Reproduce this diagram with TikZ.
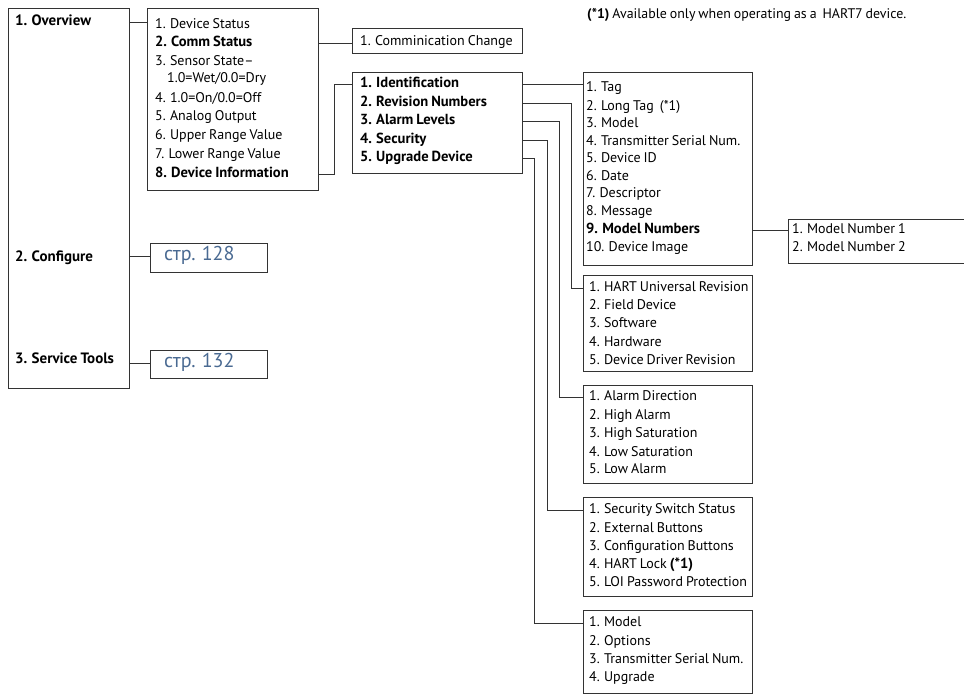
\documentclass[tikz,border=0pt]{standalone}
\usepackage{fontspec}
\setmainfont[WordSpace=0.8]{PT Sans}
\usepackage{tikz}
\usetikzlibrary{positioning}
\definecolor{pagelink}{RGB}{74,106,146}
\tikzset{
  menu/.style={draw=black!80,line width=0.9pt,anchor=north west,inner sep=0pt},
  item/.style={anchor=west,inner sep=0pt,text height=9pt,text depth=3pt,
    font=\fontsize{14}{16}\selectfont},
  bitem/.style={item,font=\fontsize{14.6}{16}\selectfont\bfseries},
  head/.style={item,font=\fontsize{15}{17}\selectfont\bfseries},
  pageref/.style={item,text height=12pt,text depth=4pt,
    font=\fontsize{20}{22}\selectfont,text=pagelink},
  note/.style={anchor=west,inner sep=0pt,font=\fontsize{13.9}{15}\selectfont},
  wire/.style={draw=black!80,line width=0.9pt},
}
\newcommand{\menubox}[5]{\node[menu,minimum width=#4pt,minimum height=#5pt] (#1) at (#2,#3) {};}
\newcommand{\menubf}[1]{{\fontsize{14.6}{16}\selectfont\bfseries #1}}

\begin{document}
\begin{tikzpicture}[x=1pt,y=-1pt]
  \useasboundingbox (0,0) rectangle (964,694);
  \node[note] (fn) at (587,15) {\textbf{(*1)} Available only when operating as a\ \ HART7 device.};

  % menu boxes
  \menubox{ov}{8}{8}{121}{380}
  \menubox{main}{147}{8}{171}{182}
  \menubox{comm}{352}{28}{170}{25}
  \menubox{ident}{352}{72}{170}{101}
  \menubox{tag}{583}{72}{169}{193}
  \menubox{mnum}{788}{219}{180}{44}
  \menubox{rev}{583}{275}{169}{96}
  \menubox{alarm}{583}{385}{169}{98}
  \menubox{sec}{583}{497}{169}{99}
  \menubox{upg}{583}{610}{169}{83}
  \menubox{p128}{150}{243}{117}{29}
  \menubox{p132}{150}{350}{117}{28}

  % entries
  \foreach \y/\t [count=\i] in {22/1. Overview,258/2. Configure,360/3. Service Tools}
    \node[head] (ov-\i) at (15,\y) {\t};
  \foreach \x/\y/\t [count=\i] in {155/25/1. Device Status,155/43/\menubf{2. Comm Status},
      155/62/3. Sensor State–,167/79/{1.0=Wet/0.0=Dry},155/99/{4. 1.0=On/0.0=Off},
      155/117/5. Analog Output,155/136/6. Upper Range Value,155/155/7. Lower Range Value,
      155/174/\menubf{8. Device Information}}
    \node[item] (main-\i) at (\x,\y) {\t};
  \node[item] (comm-1) at (360,42) {1. Comminication Change};
  \foreach \y/\t [count=\i] in {84/1. Identification,103/2. Revision Numbers,
      121/3. Alarm Levels,140/4. Security,158/5. Upgrade Device}
    \node[bitem] (ident-\i) at (360,\y) {\t};
  \foreach \y/\t [count=\i] in {88/1. Tag,107/2. Long Tag\ \ (*1),124/3. Model,
      142/4. Transmitter Serial Num.,159/5. Device ID,177/6. Date,194/7. Descriptor,
      212/8. Message,230/\menubf{9. Model Numbers},248/10. Device Image}
    \node[item] (tag-\i) at (586,\y) {\t};
  \foreach \y/\t [count=\i] in {230/1. Model Number 1,248/2. Model Number 2}
    \node[item] (mnum-\i) at (792,\y) {\t};
  \foreach \y/\t [count=\i] in {288/1. HART Universal Revision,306/2. Field Device,
      324/3. Software,343/4. Hardware,361/5. Device Driver Revision}
    \node[item] (rev-\i) at (589,\y) {\t};
  \foreach \y/\t [count=\i] in {397/1. Alarm Direction,416/2. High Alarm,
      434/3. High Saturation,453/4. Low Saturation,470/5. Low Alarm}
    \node[item] (alarm-\i) at (589,\y) {\t};
  \foreach \y/\t [count=\i] in {510/1. Security Switch Status,529/2. External Buttons,
      547/3. Configuration Buttons,565/4. HART Lock \menubf{(*1)},583/5. LOI Password Protection}
    \node[item] (sec-\i) at (589,\y) {\t};
  \foreach \y/\t [count=\i] in {623/1. Model,642/2. Options,
      660/3. Transmitter Serial Num.,678/4. Upgrade}
    \node[item] (upg-\i) at (589,\y) {\t};
  \node[pageref] (p128-1) at (164,256) {стр. 128};
  \node[pageref] (p132-1) at (164,363) {стр. 132};

  % connectors
  \draw[wire] (ov.east |- ov-1) -- (main.west |- ov-1);
  \draw[wire] (ov.east |- p128-1) -- (p128.west |- p128-1);
  \draw[wire] (ov.east |- p132-1) -- (p132.west |- p132-1);
  \draw[wire] (main.east |- main-2) -- (comm.west |- main-2);
  \draw[wire] (main.east |- main-9) -- ++(16,0) |- (ident.west |- ident-1);
  \draw[wire] (ident.east |- ident-1) -- (tag.west |- ident-1);
  \draw[wire] (ident.east |- ident-2) -- ++(49,0) |- (rev.west |- rev-1);
  \draw[wire] (ident.east |- ident-3) -- ++(37,0) |- (alarm.west |- alarm-1);
  \draw[wire] (ident.east |- ident-4) -- ++(25,0) |- (sec.west |- sec-1);
  \draw[wire] (ident.east |- ident-5) -- ++(12,0) |- (upg.west |- upg-1);
  \draw[wire] (tag.east |- tag-9) -- (mnum.west |- tag-9);
\end{tikzpicture}
\end{document}
